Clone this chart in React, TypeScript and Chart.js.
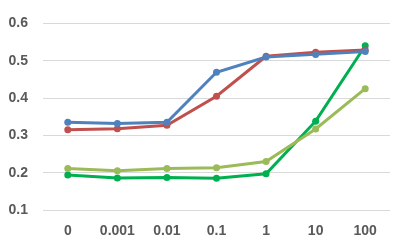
import React, { useEffect, useRef } from "react";
import { Chart, registerables } from "chart.js";

Chart.register(...registerables);

const categories = ["0", "0.001", "0.01", "0.1", "1", "10", "100"];
const seriesBlue = [0.335, 0.332, 0.335, 0.469, 0.51, 0.517, 0.525];
const seriesRed = [0.315, 0.318, 0.327, 0.405, 0.512, 0.523, 0.529];
const seriesLightGreen = [0.211, 0.205, 0.211, 0.213, 0.23, 0.317, 0.425];
const seriesGreen = [0.194, 0.186, 0.187, 0.185, 0.197, 0.338, 0.54];

const mk = (data: number[], color: string) => ({
  data,
  borderColor: color,
  backgroundColor: color,
  borderWidth: 3,
  pointRadius: 3.5,
  pointHoverRadius: 3.5,
  pointBorderWidth: 0,
  tension: 0,
});

export default function App() {
  const ref = useRef<HTMLCanvasElement>(null);
  useEffect(() => {
    const font = { family: "'Liberation Sans', Arial, sans-serif", size: 14, weight: "bold" as const };
    const chart = new Chart(ref.current!, {
      type: "line",
      data: {
        labels: categories,
        datasets: [
          mk(seriesBlue, "#4F81BD"),
          mk(seriesRed, "#C0504D"),
          mk(seriesLightGreen, "#9BBB59"),
          mk(seriesGreen, "#00B050"),
        ],
      },
      options: {
        animation: false,
        responsive: false,
        maintainAspectRatio: false,
        layout: { padding: { top: 15, right: 14, bottom: 0, left: 0 } },
        plugins: { legend: { display: false }, tooltip: { enabled: false } },
        scales: {
          x: {
            offset: true,
            grid: { display: false, drawTicks: false },
            border: { display: false },
            ticks: { color: "#595959", font, padding: 13, maxRotation: 0 },
            afterFit: (s: any) => { s.height = 38; },
          },
          y: {
            min: 0.1,
            max: 0.6,
            grid: { color: "#D9D9D9", drawTicks: false, lineWidth: 1 },
            border: { display: false },
            ticks: {
              stepSize: 0.1,
              color: "#595959",
              font,
              padding: 15,
              callback: (v: any) => Number(v).toFixed(1),
            },
            afterFit: (s: any) => { s.width = 43; },
          },
        },
      },
    });
    return () => chart.destroy();
  }, []);
  return (
    <div style={{ position: "fixed", left: 0, top: 0, width: 404, height: 248, background: "#fff" }}>
      <canvas ref={ref} width={404} height={248} />
    </div>
  );
}
